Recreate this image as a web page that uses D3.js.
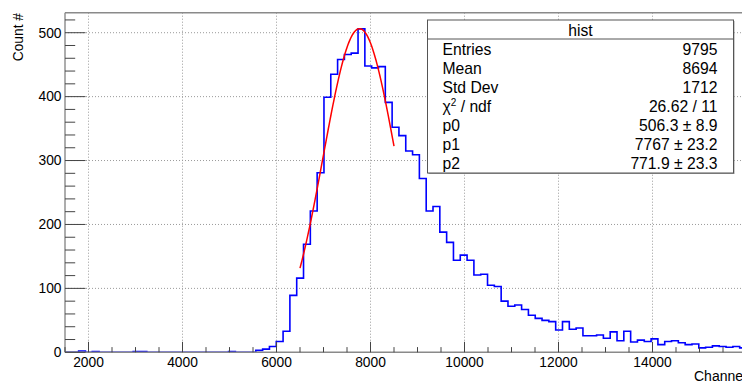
<!DOCTYPE html>
<html>
<head>
<meta charset="utf-8">
<script src="https://cdn.jsdelivr.net/npm/d3@7"></script>
<style>
  html, body { margin: 0; padding: 0; background: #fff; }
  svg { display: block; font-family: "Liberation Sans", Arial, Helvetica, sans-serif; }
</style>
</head>
<body>
<div id="chart"></div>
<script>
// ---- data ----
const binLow = 1500;
const binWidth = 145;
const counts = [
  0, 0, 2, 0, 1, 0, 0, 0, 0, 0,
  1, 1, 0, 0, 0, 0, 0, 0, 0, 0,
  0, 0, 0, 0, 1, 0, 0, 0, 3, 5,
  9, 17, 33, 89, 116, 169, 221, 281, 399, 435,
  458, 466, 468, 506, 448, 445, 447, 391, 352, 339,
  315, 309, 272, 221, 228, 188, 172, 144, 152, 144,
  121, 122, 105, 103, 80, 72, 74, 67, 58, 53,
  50, 48, 35, 48, 36, 38, 26, 26, 27, 22,
  32, 18, 33, 16, 19, 17, 21, 12, 17, 18,
  15, 12, 13, 7, 8, 10, 9, 8, 9, 7
];
const fitParams = [506.3, 7767, 771.9];   // p0, p1, p2 (gaus)
const fitRange = [6500, 8500];
const xTicks = [2000, 4000, 6000, 8000, 10000, 12000, 14000];
const yTicks = [0, 100, 200, 300, 400, 500];
const statTitle = "hist";
const statLabels = ["Entries", "Mean", "Std Dev", "CHI", "p0", "p1", "p2"];
const statValues = ["9795", "8694", "1712", "26.62 / 11", "506.3 \u00b1 8.9", "7767 \u00b1 23.2", "771.9 \u00b1 23.3"];
const xTitle = "Channel";
const yTitle = "Count #";

// ---- layout ----
const W = 742, H = 383;
const L = 65, R = 746.5, T = 12.7, B = 352.3;

const svg = d3.select("#chart").append("svg").attr("width", W).attr("height", H);

const x = d3.scaleLinear().domain([1500, 16000]).range([L, R]);
const y = d3.scaleLinear().domain([0, 531.3]).range([B, T]);

// grid
const grid = svg.append("g").attr("stroke", "#9a9a9a").attr("stroke-width", 1).attr("stroke-dasharray", "1,2");
xTicks.forEach(v => grid.append("line").attr("x1", x(v)).attr("x2", x(v)).attr("y1", T).attr("y2", B));
yTicks.filter(v => v > 0).forEach(v => grid.append("line").attr("x1", L).attr("x2", R).attr("y1", y(v)).attr("y2", y(v)));

// histogram
const pts = [];
pts.push([binLow, 0]);
counts.forEach((c, i) => {
  const a = binLow + i * binWidth, b = a + binWidth;
  pts.push([a, c]); pts.push([b, c]);
});
const line = d3.line().x(d => x(d[0])).y(d => y(d[1]));
svg.append("path").datum(pts).attr("d", line)
  .attr("fill", "none").attr("stroke", "#0000ff").attr("stroke-width", 1.6);

// fit curve
const gaus = v => fitParams[0] * Math.exp(-0.5 * Math.pow((v - fitParams[1]) / fitParams[2], 2));
const fitPts = d3.range(0, 101).map(k => {
  const v = fitRange[0] + (fitRange[1] - fitRange[0]) * k / 100;
  return [v, gaus(v)];
});
svg.append("path").datum(fitPts).attr("d", line)
  .attr("fill", "none").attr("stroke", "#ff0000").attr("stroke-width", 1.5);

// frame
svg.append("line").attr("x1", L).attr("x2", R + 2).attr("y1", T).attr("y2", T).attr("stroke", "#8a8a8a").attr("stroke-width", 1.4);
svg.append("line").attr("x1", L).attr("x2", L).attr("y1", T).attr("y2", B).attr("stroke", "#8a8a8a").attr("stroke-width", 1.4);
svg.append("line").attr("x1", L).attr("x2", R + 2).attr("y1", B).attr("y2", B).attr("stroke", "#8a8a8a").attr("stroke-width", 1.4);

// ticks
const tg = svg.append("g").attr("stroke", "#444").attr("stroke-width", 1);
d3.range(1500, 16001, 500).forEach(v => {
  const major = xTicks.includes(v);
  tg.append("line").attr("x1", x(v)).attr("x2", x(v)).attr("y1", B).attr("y2", B - (major ? 10.5 : 5.2));
});
d3.range(0, 531, 20).forEach(v => {
  const major = v % 100 === 0;
  tg.append("line").attr("x1", L).attr("x2", L + (major ? 20.5 : 10.2)).attr("y1", y(v)).attr("y2", y(v));
});

// tick labels
const lab = svg.append("g").attr("font-size", "13.8px").attr("fill", "#000");
xTicks.forEach(v => lab.append("text").attr("x", x(v)).attr("y", 367).attr("text-anchor", "middle").text(v));
yTicks.forEach(v => lab.append("text").attr("x", 61.5).attr("y", y(v) + 4.8).attr("text-anchor", "end").text(v));

// axis titles
svg.append("text").attr("x", 694).attr("y", 381).attr("text-anchor", "start").attr("font-size", "14px").text(xTitle);
svg.append("text").attr("transform", "translate(23,13) rotate(-90)").attr("text-anchor", "end").attr("font-size", "13.8px").text(yTitle);

// stat box
const bx = 427.5, by = 20, bw = 306, bh = 153;
svg.append("rect").attr("x", bx + 1).attr("y", by + 1).attr("width", bw).attr("height", bh).attr("fill", "#9a9a9a");
svg.append("rect").attr("x", bx).attr("y", by).attr("width", bw).attr("height", bh).attr("fill", "#fff").attr("stroke", "#555").attr("stroke-width", 1);
svg.append("line").attr("x1", bx).attr("x2", bx + bw).attr("y1", 39).attr("y2", 39).attr("stroke", "#555").attr("stroke-width", 1);
const st = svg.append("g").attr("font-size", "15.7px").attr("fill", "#000");
st.append("text").attr("x", 580.5).attr("y", 36).attr("text-anchor", "middle").text(statTitle);
statLabels.forEach((s, i) => {
  const t = st.append("text").attr("x", 442.5).attr("y", 55 + i * 19);
  if (s === "CHI") {
    t.append("tspan").text("\u03c7");
    t.append("tspan").attr("font-size", "10px").attr("dy", -6).text("2");
    t.append("tspan").attr("dy", 6).text(" / ndf");
  } else {
    t.text(s);
  }
  st.append("text").attr("x", 717.5).attr("y", 55 + i * 19).attr("text-anchor", "end").text(statValues[i]);
});
</script>
</body>
</html>
